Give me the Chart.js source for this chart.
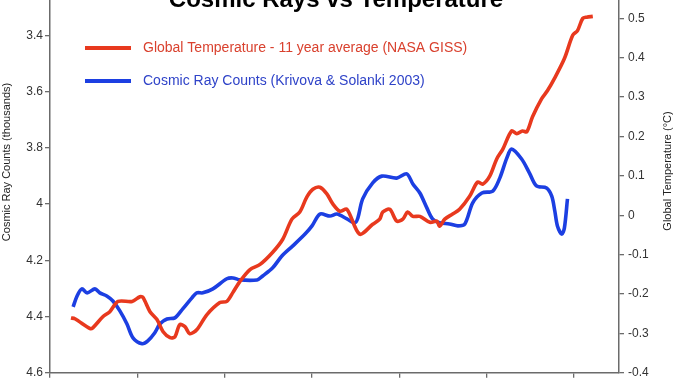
<!DOCTYPE html>
<html>
<head>
<meta charset="utf-8">
<script src="https://cdn.jsdelivr.net/npm/chart.js@4.4.0/dist/chart.umd.min.js"></script>
<style>
html,body{margin:0;padding:0;background:#fff;overflow:hidden;width:678px;height:381px;}
#wrap{position:absolute;left:0;top:-60px;width:678px;height:480px;}
</style>
</head>
<body>
<div id="wrap"><canvas id="c"></canvas></div>
<script>
// Global temperature, 11-year average (NASA GISS), deg C
const tempYears = [1884.8,1885.7,1889.2,1889.8,1892.1,1893.7,1895.6,1898.8,1900.6,1901.3,1902.9,1904.5,1905.9,1907.5,1908.6,1909.7,1910.9,1912.0,1913.6,1915.9,1918.9,1920.5,1921.9,1923.5,1925.8,1928.1,1931.0,1933.3,1935.4,1937.2,1938.8,1940.2,1941.8,1943.4,1944.8,1946.4,1948.0,1950.9,1953.9,1955.5,1956.2,1957.8,1959.4,1960.8,1961.9,1963.1,1964.7,1967.0,1968.6,1969.2,1970.4,1972.2,1973.8,1976.1,1977.9,1979.1,1980.7,1982.3,1983.7,1985.7,1986.9,1988.2,1989.2,1990.5,1992.6,1993.9,1995.5,1997.8,1999.7,2000.8,2002.0,2002.9,2004.3];
const tempValues = [-0.261,-0.263,-0.288,-0.286,-0.258,-0.245,-0.219,-0.219,-0.207,-0.209,-0.245,-0.265,-0.296,-0.311,-0.309,-0.278,-0.283,-0.301,-0.291,-0.253,-0.222,-0.219,-0.196,-0.168,-0.138,-0.125,-0.094,-0.061,-0.010,0.008,0.046,0.066,0.071,0.054,0.028,0.010,0.015,-0.048,-0.023,-0.010,0.008,0.015,-0.015,-0.010,0.008,-0.003,-0.003,-0.018,-0.015,-0.028,-0.010,0.003,0.015,0.048,0.084,0.079,0.099,0.143,0.168,0.214,0.207,0.214,0.212,0.250,0.296,0.316,0.347,0.398,0.457,0.469,0.500,0.503,0.505];

// Cosmic ray counts (Krivova & Solanki 2003), thousands
const cosmicYears = [1885.3,1886.2,1887.3,1888.5,1890.3,1891.4,1893.0,1894.4,1896.0,1897.6,1899.0,1901.1,1902.4,1904.0,1905.2,1906.8,1908.6,1910.4,1912.5,1913.6,1915.0,1917.3,1920.5,1921.9,1923.5,1927.4,1928.7,1931.0,1933.1,1935.6,1938.4,1940.0,1941.8,1944.1,1945.7,1948.0,1949.8,1950.5,1951.6,1953.9,1956.0,1959.4,1961.7,1963.1,1964.7,1966.3,1967.6,1969.2,1971.5,1973.4,1975.0,1976.8,1978.9,1981.4,1983.0,1984.6,1985.7,1988.0,1989.8,1991.4,1993.7,1994.9,1995.6,1996.2,1997.2,1997.8,1998.5];
const cosmicValues = [4.366,4.327,4.302,4.316,4.302,4.316,4.327,4.345,4.380,4.426,4.476,4.497,4.487,4.458,4.426,4.409,4.405,4.373,4.334,4.316,4.316,4.302,4.266,4.263,4.270,4.270,4.256,4.227,4.185,4.149,4.107,4.078,4.036,4.043,4.036,4.053,4.067,4.050,3.982,3.925,3.901,3.908,3.893,3.929,3.961,4.014,4.053,4.067,4.071,4.078,4.071,3.996,3.961,3.954,3.908,3.837,3.805,3.840,3.890,3.936,3.943,3.972,4.025,4.078,4.107,4.085,3.982];

const xTicks = [1880,1900,1920,1940,1960,1980,2000];
const leftTicks = [3.4,3.6,3.8,4,4.2,4.4,4.6];
const rightTicks = [-0.4,-0.3,-0.2,-0.1,0,0.1,0.2,0.3,0.4,0.5];

const titleText = 'Cosmic Rays vs Temperature';
const tempLabel = 'Global Temperature - 11 year average (NASA GISS)';
const cosmicLabel = 'Cosmic Ray Counts (Krivova & Solanki 2003)';
const leftTitle = 'Cosmic Ray Counts (thousands)';
const rightTitle = 'Global Temperature (°C)';

const RED = '#e8391e';
const BLUE = '#1c3fe2';
const OFF = 60; // canvas offset above page top
const FONT = '"Liberation Sans", Arial, sans-serif';

const pts = (xs, ys) => xs.map((x, i) => ({x: x, y: ys[i]}));
const fmt = v => String(Number(v.toFixed(1)));

const extras = {
  id: 'extras',
  afterDraw(chart) {
    const ctx = chart.ctx;
    ctx.save();
    // title
    ctx.fillStyle = '#000';
    ctx.font = 'bold 24px ' + FONT;
    ctx.textAlign = 'center';
    ctx.textBaseline = 'alphabetic';
    ctx.fillText(titleText, 336, 7 + OFF);
    // legend
    const items = [[tempLabel, RED, '#d9412e', 48], [cosmicLabel, BLUE, '#2f43c8', 81]];
    ctx.font = '14px ' + FONT;
    ctx.textAlign = 'left';
    ctx.textBaseline = 'middle';
    items.forEach(([t, lc, tc, y]) => {
      ctx.strokeStyle = lc;
      ctx.lineWidth = 4;
      ctx.beginPath();
      ctx.moveTo(85, y + OFF);
      ctx.lineTo(131, y + OFF);
      ctx.stroke();
      ctx.fillStyle = tc;
      ctx.fillText(t, 143, y + OFF);
    });
    // axis titles
    ctx.fillStyle = '#222';
    ctx.font = '11px ' + FONT;
    ctx.textAlign = 'center';
    ctx.textBaseline = 'middle';
    ctx.save();
    ctx.translate(7, 162 + OFF);
    ctx.rotate(-Math.PI / 2);
    ctx.fillText(leftTitle, 0, 0);
    ctx.restore();
    ctx.save();
    ctx.translate(668, 171 + OFF);
    ctx.rotate(-Math.PI / 2);
    ctx.fillText(rightTitle, 0, 0);
    ctx.restore();
    ctx.restore();
  }
};

const axisColor = '#6b6b6b';

new Chart(document.getElementById('c'), {
  type: 'line',
  data: {
    datasets: [
      {label: tempLabel, data: pts(tempYears, tempValues), yAxisID: 'y1', borderColor: RED, borderWidth: 3.6, pointRadius: 0, tension: 0.3, fill: false},
      {label: cosmicLabel, data: pts(cosmicYears, cosmicValues), yAxisID: 'y', borderColor: BLUE, borderWidth: 3.6, pointRadius: 0, tension: 0.3, fill: false}
    ]
  },
  options: {
    responsive: true,
    maintainAspectRatio: false,
    animation: false,
    events: [],
    layout: {padding: {top: 39, left: 0, right: 0, bottom: 0}},
    plugins: {legend: {display: false}, title: {display: false}, tooltip: {enabled: false}},
    scales: {
      x: {
        type: 'linear', min: 1880, max: 2010.3,
        afterBuildTicks: s => { s.ticks = xTicks.map(v => ({value: v})); },
        afterFit: s => { s.height = 47.3; },
        ticks: {display: false},
        grid: {display: true, drawOnChartArea: false, drawTicks: true, tickLength: 5, color: axisColor, lineWidth: 1.3},
        border: {display: true, color: axisColor, width: 1.5}
      },
      y: {
        type: 'linear', position: 'left', reverse: true, min: 3.2, max: 4.6,
        afterBuildTicks: s => { s.ticks = leftTicks.map(v => ({value: v})); },
        afterFit: s => { s.width = 50; },
        ticks: {callback: v => fmt(v), color: '#333', font: {family: FONT, size: 12}, padding: 2},
        grid: {display: true, drawOnChartArea: false, drawTicks: true, tickLength: 5, color: axisColor, lineWidth: 1.3},
        border: {display: true, color: axisColor, width: 1.5}
      },
      y1: {
        type: 'linear', position: 'right', min: -0.4, max: 0.6,
        afterBuildTicks: s => { s.ticks = rightTicks.map(v => ({value: v})); },
        afterFit: s => { s.width = 59; },
        ticks: {callback: v => fmt(v), color: '#333', font: {family: FONT, size: 12}, padding: 4},
        grid: {display: true, drawOnChartArea: false, drawTicks: true, tickLength: 5, color: axisColor, lineWidth: 1.3},
        border: {display: true, color: axisColor, width: 1.5}
      }
    }
  },
  plugins: [extras]
});
</script>
</body>
</html>
